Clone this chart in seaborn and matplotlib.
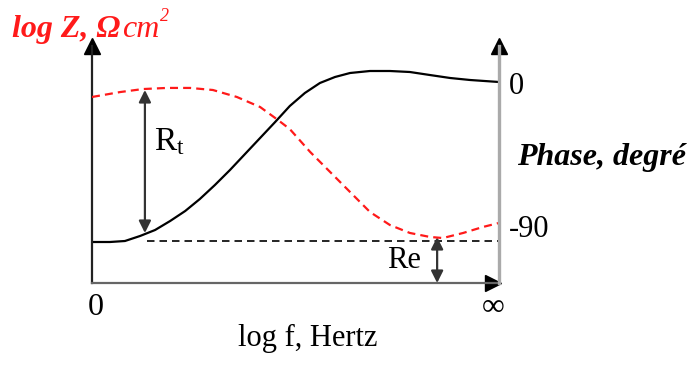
import pandas as pd
import matplotlib.pyplot as plt
import seaborn as sns

# Estilo
sns.set_theme(style="white")
plt.rcParams["font.family"] = ["Liberation Serif", "DejaVu Serif"]
plt.rcParams["mathtext.fontset"] = "custom"
plt.rcParams["mathtext.rm"] = "Liberation Serif"
plt.rcParams["mathtext.it"] = "Liberation Serif:italic"
for k in ["text.color", "axes.labelcolor", "xtick.color", "ytick.color"]:
    plt.rcParams[k] = "black"

# Dados (log f normalizado 0 -> infinito = 1)
freq_z = [0.0, 0.044, 0.081, 0.118, 0.155, 0.192, 0.229, 0.265, 0.302, 0.339,
          0.376, 0.413, 0.450, 0.486, 0.523, 0.560, 0.597, 0.634, 0.683, 0.732,
          0.781, 0.830, 0.880, 0.929, 1.0]
log_z = [0.41, 0.41, 0.42, 0.47, 0.53, 0.62, 0.72, 0.84, 0.98, 1.13,
         1.29, 1.45, 1.61, 1.77, 1.90, 2.00, 2.06, 2.10, 2.12, 2.12,
         2.11, 2.08, 2.05, 2.03, 2.01]

freq_phase = [0.0, 0.069, 0.125, 0.184, 0.241, 0.297, 0.356, 0.413, 0.457, 0.486,
              0.536, 0.585, 0.634, 0.683, 0.732, 0.781, 0.830, 0.862, 0.912, 0.961, 1.0]
phase = [-8.8, -5.7, -3.8, -3.1, -3.1, -4.4, -8.8, -15.1, -23.3, -29.0,
         -43.4, -56.0, -68.6, -81.2, -89.4, -94.4, -96.9, -97.6, -94.4, -90.6, -88.1]

re_level = 0.42          # log Z a alta frequencia (Re)
rt_level = 1.93          # log Z a baixa frequencia (Re + Rt)
x_ticks = [0.008, 0.985]
x_tick_labels = ["0", "\u221e"]
phase_ticks = [0, -90]
phase_tick_labels = ["0", "-90"]

df_z = pd.DataFrame({"logf": freq_z, "logZ": log_z})
df_ph = pd.DataFrame({"logf": freq_phase, "phase": phase})

fig = plt.figure(figsize=(6.9, 3.65), dpi=100)
ax = fig.add_axes([92 / 690, (365 - 283) / 365, 407 / 690, 237 / 365])
ax2 = ax.twinx()

sns.lineplot(data=df_z, x="logf", y="logZ", ax=ax, color="black", lw=1.6)
sns.lineplot(data=df_ph, x="logf", y="phase", ax=ax2, color="#ff1a1a", lw=1.6,
             linestyle=(0, (3.6, 2.3)))

ax.set_xlim(0, 1)
ax.set_ylim(0, 2.37)
ax2.set_ylim(-125.9, 23.3)

# Linha tracejada de Re
ax.plot([0.135, 1.0], [re_level, re_level], color="black", lw=1.2,
        linestyle=(0, (4.5, 3)))

# Setas Rt e Re
ax.annotate("", xy=(0.130, rt_level), xytext=(0.130, 0.50),
            arrowprops=dict(arrowstyle="<|-|>", color="#333333", lw=1.6,
                            mutation_scale=18, shrinkA=0, shrinkB=0))
ax.annotate("", xy=(0.848, 0.46), xytext=(0.848, 0.0),
            arrowprops=dict(arrowstyle="<|-|>", color="#333333", lw=1.6,
                            mutation_scale=18, shrinkA=0, shrinkB=0))
ax.text(0.152, 1.33, r"R$_\mathrm{t}$", fontsize=24, va="baseline", ha="left")
ax.text(0.725, 0.15, "Re", fontsize=22, va="baseline", ha="left")

# Eixos
for a in (ax, ax2):
    a.spines["top"].set_visible(False)
ax.spines["left"].set_color("#222222")
ax.spines["left"].set_linewidth(1.6)
ax.spines["bottom"].set_color("#666666")
ax.spines["bottom"].set_linewidth(1.6)
ax.spines["right"].set_visible(False)
ax2.spines["left"].set_visible(False)
ax2.spines["bottom"].set_visible(False)
ax2.spines["right"].set_color("#aaaaaa")
ax2.spines["right"].set_linewidth(2.4)

ax.plot(0, 1, marker="^", color="black", ms=11, transform=ax.transAxes, clip_on=False)
ax.plot(1, 1, marker="^", color="black", ms=11, transform=ax.transAxes, clip_on=False)
ax.plot(0.985, 0, marker=">", color="black", ms=11, transform=ax.transAxes, clip_on=False)

ax.set_yticks([])
ax.set_xticks(x_ticks)
ax.set_xticklabels(x_tick_labels, fontsize=23)
ax.tick_params(axis="x", length=0, pad=7)
ax.set_xlabel("log f, Hertz", fontsize=22)
ax.xaxis.set_label_coords(0.53, -0.175)
ax.set_ylabel("")

ax2.set_yticks(phase_ticks)
ax2.set_yticklabels(phase_tick_labels, fontsize=22)
ax2.tick_params(axis="y", length=0, pad=7)
ax2.set_ylabel("")

fig.text(517 / 690, (365 - 157) / 365, "Phase, degr\u00e9", fontsize=23,
         fontweight="bold", fontstyle="italic", va="center", ha="left")

# Titulo do eixo log Z (vermelho)
t1 = fig.text(12 / 690, (365 - 37) / 365, "log Z, \u03a9", fontsize=23, color="#ff1a1a",
              fontweight="bold", fontstyle="italic", va="baseline", ha="left")
fig.canvas.draw()
bb = t1.get_window_extent()
t2 = fig.text(bb.x1 / 690 + 0.003, (365 - 37) / 365, "cm", fontsize=23, color="#ff1a1a",
              fontstyle="italic", va="baseline", ha="left")
fig.canvas.draw()
bb2 = t2.get_window_extent()
fig.text(bb2.x1 / 690, (365 - 21) / 365, "2", fontsize=13, color="#ff1a1a",
         fontstyle="italic", va="baseline", ha="left")

fig.savefig("out.png", dpi=100)
plt.close()
